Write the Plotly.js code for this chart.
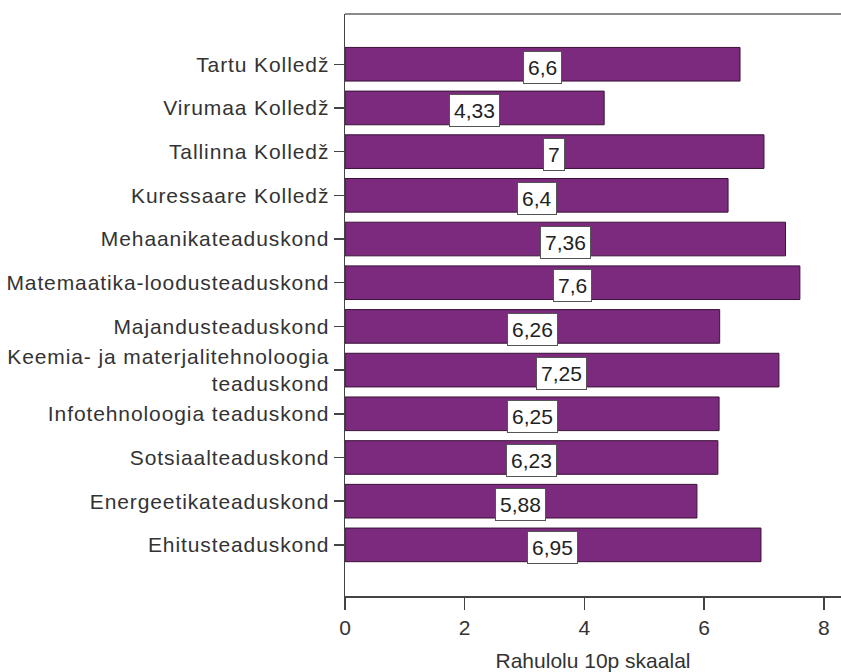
<!DOCTYPE html>
<html>
<head>
<meta charset="utf-8">
<script src="https://cdn.plot.ly/plotly-3.0.1.min.js"></script>
<style>
html,body{margin:0;padding:0;background:#fff;}
#chart{width:841px;height:672px;}
#chart .ytick text{letter-spacing:0.9px;}
</style>
</head>
<body>
<div id="chart"></div>
<script>
const categories = [
  "Tartu Kolledž",
  "Virumaa Kolledž",
  "Tallinna Kolledž",
  "Kuressaare Kolledž",
  "Mehaanikateaduskond",
  "Matemaatika-loodusteaduskond",
  "Majandusteaduskond",
  "Keemia- ja materjalitehnoloogia<br>teaduskond",
  "Infotehnoloogia teaduskond",
  "Sotsiaalteaduskond",
  "Energeetikateaduskond",
  "Ehitusteaduskond"
];
const values = [6.6, 4.33, 7, 6.4, 7.36, 7.6, 6.26, 7.25, 6.25, 6.23, 5.88, 6.95];
const valueLabels = ["6,6", "4,33", "7", "6,4", "7,36", "7,6", "6,26", "7,25", "6,25", "6,23", "5,88", "6,95"];
const xTicks = [0, 2, 4, 6, 8];
const xTitle = "Rahulolu 10p skaalal";

const FONT = "Liberation Sans, Arial, sans-serif";

const trace = {
  type: "bar",
  orientation: "h",
  x: values,
  y: categories,
  width: 0.77,
  marker: { color: "#7b2a7d", line: { color: "#3a1238", width: 1 } },
  hoverinfo: "skip"
};

const annotations = values.map((v, i) => ({
  x: v / 2,
  y: categories[i],
  xref: "x",
  yref: "y",
  text: valueLabels[i],
  showarrow: false,
  bgcolor: "#ffffff",
  bordercolor: "#555555",
  borderwidth: 1,
  borderpad: 4,
  yshift: -3,
  font: { family: FONT, size: 21, color: "#222" }
}));

const layout = {
  width: 841,
  height: 672,
  margin: { l: 345, r: 0, t: 14, b: 76, pad: 0 },
  paper_bgcolor: "#fff",
  plot_bgcolor: "#fff",
  showlegend: false,
  font: { family: FONT, color: "#333" },
  xaxis: {
    range: [0, 8.287],
    tickvals: xTicks,
    ticktext: xTicks.map(String),
    showgrid: false,
    zeroline: false,
    showline: true,
    linecolor: "#444",
    linewidth: 1.5,
    ticks: "outside",
    ticklen: 12,
    tickwidth: 1.5,
    tickcolor: "#444",
    tickfont: { family: FONT, size: 21, color: "#333" },
    title: { text: xTitle, font: { family: FONT, size: 21, color: "#333" }, standoff: 16 },
    fixedrange: true
  },
  yaxis: {
    type: "category",
    categoryorder: "array",
    categoryarray: categories,
    range: [12.17, -1.15],
    showgrid: false,
    zeroline: false,
    showline: true,
    linecolor: "#444",
    linewidth: 1.5,
    ticks: "outside",
    ticklen: 10,
    tickwidth: 1.5,
    tickcolor: "#444",
    tickfont: { family: FONT, size: 21, color: "#333" },
    fixedrange: true
  },
  shapes: [{
    type: "line", xref: "paper", yref: "paper",
    x0: 0, x1: 1, y0: 1, y1: 1,
    line: { color: "#8a8a8a", width: 2 }
  }],
  annotations: annotations
};

Plotly.newPlot("chart", [trace], layout, { displayModeBar: false, staticPlot: true });
</script>
</body>
</html>
